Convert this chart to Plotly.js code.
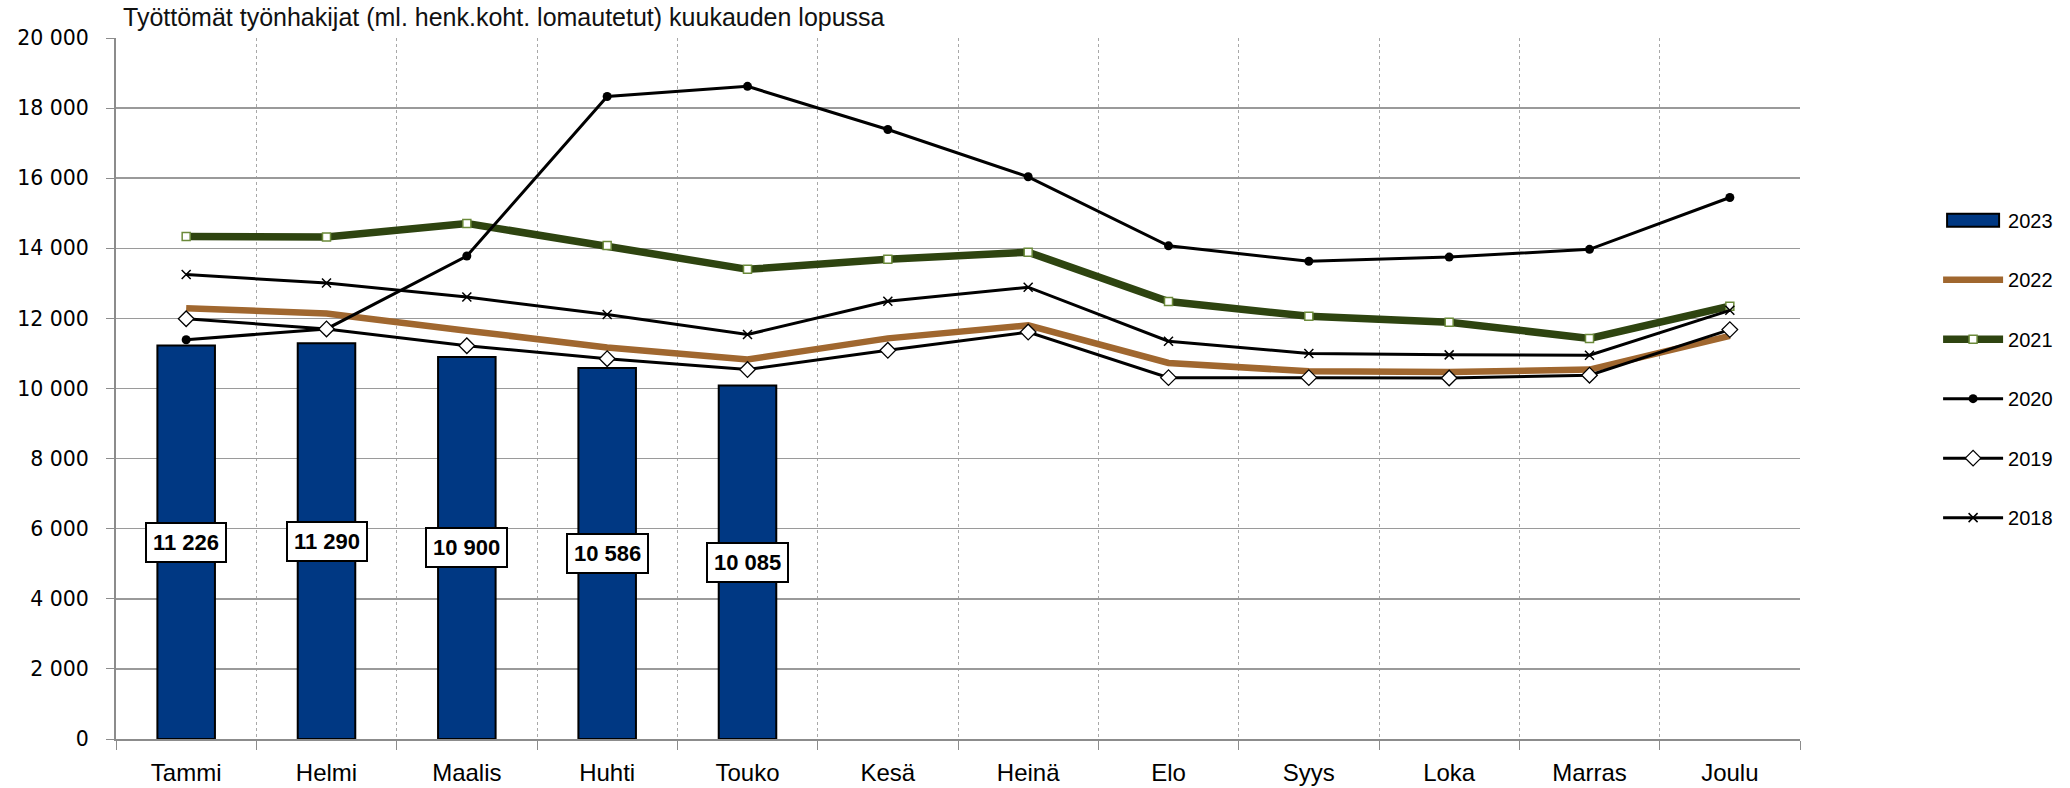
<!DOCTYPE html>
<html>
<head>
<meta charset="utf-8">
<script src="https://cdn.plot.ly/plotly-3.0.1.min.js"></script>
<style>html,body{margin:0;padding:0;background:#fff}#chart{width:2070px;height:788px}</style>
</head>
<body>
<div id="chart"></div>
<script>
const months = ["Tammi","Helmi","Maalis","Huhti","Touko","Kesä","Heinä","Elo","Syys","Loka","Marras","Joulu"];
const y2023 = [11226, 11290, 10900, 10586, 10085];
const y2022 = [12290, 12140, 11650, 11170, 10830, 11430, 11800, 10730, 10490, 10470, 10540, 11500];
const y2021 = [14340, 14320, 14710, 14080, 13400, 13690, 13890, 12480, 12060, 11890, 11430, 12350];
const y2020 = [11390, 11700, 13780, 18330, 18620, 17390, 16040, 14070, 13630, 13750, 13970, 15450];
const y2019 = [11990, 11700, 11220, 10850, 10540, 11090, 11610, 10310, 10310, 10300, 10380, 11680];
const y2018 = [13250, 13010, 12610, 12110, 11540, 12490, 12890, 11350, 11000, 10960, 10950, 12230];
const yTicks = [0, 2000, 4000, 6000, 8000, 10000, 12000, 14000, 16000, 18000, 20000];

function fmt(v){ return String(v).replace(/\B(?=(\d{3})+(?!\d))/g, " "); }

const traces = [
  {type:"bar", name:"2023", x:months.slice(0, y2023.length), y:y2023,
   marker:{color:"#003883", line:{color:"#000", width:2}}, hoverinfo:"x+y"},
  {type:"scatter", mode:"lines", name:"2022", x:months, y:y2022,
   line:{color:"#A0672F", width:6.5}},
  {type:"scatter", mode:"lines+markers", name:"2021", x:months, y:y2021,
   line:{color:"#2E4410", width:7.5},
   marker:{symbol:"square", size:8, color:"#fff", line:{color:"#6B8A3A", width:1.5}}},
  {type:"scatter", mode:"lines+markers", name:"2020", x:months, y:y2020,
   line:{color:"#000", width:3},
   marker:{symbol:"circle", size:9, color:"#000"}},
  {type:"scatter", mode:"lines+markers", name:"2019", x:months, y:y2019,
   line:{color:"#000", width:3},
   marker:{symbol:"diamond", size:12, color:"#fff", line:{color:"#000", width:1.3}}},
  {type:"scatter", mode:"lines+markers", name:"2018", x:months, y:y2018,
   line:{color:"#000", width:3},
   marker:{symbol:"x-thin", size:9, color:"#000", line:{color:"#000", width:1.5}}}
];
traces.forEach((t,i)=>{ t.legendgroup = "g"+i; });

const annotations = y2023.map((v,i)=>({
  x: months[i], y: v/2, xref:"x", yref:"y", text: fmt(v), showarrow:false,
  font:{family:"Liberation Sans, Arial, sans-serif", size:22, color:"#000", weight:"bold"},
  bgcolor:"#fff", bordercolor:"#000", borderwidth:2, borderpad:6
}));

const layout = {
  width:2070, height:788,
  paper_bgcolor:"#fff", plot_bgcolor:"#fff",
  margin:{l:116, r:266, t:38, b:49},
  separators:", ",
  title:{text:"Työttömät työnhakijat (ml. henk.koht. lomautetut) kuukauden lopussa",
    x:123/2070, xanchor:"left", xref:"container", y:1-17/788, yanchor:"middle", yref:"container",
    font:{family:"Liberation Sans, Arial, sans-serif", size:25, color:"#111"}},
  bargap:0.59,
  showlegend:true,
  legend:{x:1.082, xanchor:"left", y:0.768, yanchor:"top", tracegroupgap:30.5, itemwidth:60,
    font:{family:"Liberation Sans, Arial, sans-serif", size:20, color:"#000"}, bgcolor:"rgba(0,0,0,0)"},
  xaxis:{type:"category", tickson:"boundaries", showgrid:true, gridcolor:"#a8a8a8", griddash:"dot", gridwidth:1,
    showline:true, linecolor:"#8c8c8c", linewidth:2, ticks:"outside", ticklen:9, tickcolor:"#8c8c8c",
    tickfont:{family:"Liberation Sans, Arial, sans-serif", size:24, color:"#000"}, ticklabelstandoff:11,
    range:[-0.5, 11.5], fixedrange:true},
  yaxis:{range:[0,20000], tickvals:yTicks, tickformat:",d", showgrid:true, gridcolor:"#9a9a9a", gridwidth:1.5,
    zeroline:false, showline:true, linecolor:"#8c8c8c", linewidth:2, ticks:"outside", ticklen:8, tickcolor:"#8c8c8c",
    tickfont:{family:"DejaVu Sans, Verdana, sans-serif", size:20.5, color:"#000"}, ticklabelstandoff:13, fixedrange:true},
  annotations:annotations
};

function widenBarSwatch(){
  // widen the bar legend swatch to a long rectangle like the reference
  const firstTrace = document.querySelector("#chart .legend .traces");
  if (!firstTrace) return;
  firstTrace.querySelectorAll(".legendpoints path").forEach(function(p){
    p.setAttribute("d", "M26,6.5H-26V-6.5H26Z");
  });
}

const gd = document.getElementById("chart");
Plotly.newPlot(gd, traces, layout, {displayModeBar:false, staticPlot:true}).then(function(){
  widenBarSwatch();
  gd.on("plotly_afterplot", widenBarSwatch);
  setTimeout(widenBarSwatch, 0);
  setTimeout(widenBarSwatch, 200);
});
</script>
</body>
</html>
